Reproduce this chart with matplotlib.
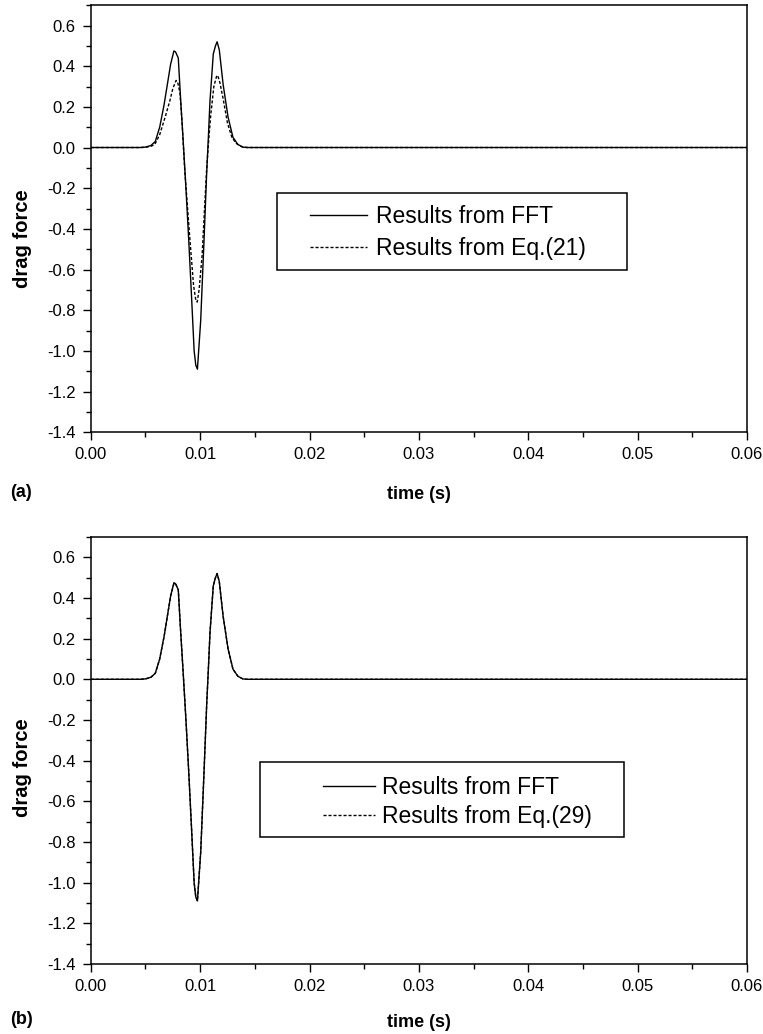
import numpy as np
import matplotlib
matplotlib.use('Agg')
import matplotlib.pyplot as plt
from matplotlib.ticker import MultipleLocator, FormatStrFormatter
from matplotlib.patches import Rectangle

plt.rcParams['font.family'] = ['Liberation Sans', 'DejaVu Sans']
plt.rcParams['axes.unicode_minus'] = False

# time in ms (converted to s below)
t_fft_ms = [0.0, 4.5, 5.0, 5.5, 5.9, 6.3, 6.7, 7.0, 7.3, 7.6, 7.75, 8.0, 8.2, 8.45,
            8.7, 8.95, 9.2, 9.45, 9.6, 9.75, 9.9, 10.05, 10.35, 10.6, 10.75, 10.9,
            11.2, 11.4, 11.55, 11.75, 12.1, 12.55, 13.0, 13.45, 13.9, 14.3, 60.0]
f_fft = [0.0, 0.0, 0.002, 0.01, 0.03, 0.10, 0.21, 0.31, 0.41, 0.475, 0.47, 0.44, 0.25, 0.03,
         -0.20, -0.45, -0.72, -1.0, -1.07, -1.09, -0.97, -0.85, -0.46, -0.12, 0.05, 0.23,
         0.46, 0.50, 0.52, 0.48, 0.31, 0.15, 0.05, 0.015, 0.002, 0.0, 0.0]

t_eq21_ms = [0.0, 4.5, 5.0, 5.5, 5.85, 6.3, 6.8, 7.23, 7.5, 7.8, 7.95, 8.15, 8.35, 8.6,
             9.06, 9.4, 9.6, 9.73, 9.9, 10.18, 10.4, 10.58, 10.73, 10.95, 11.25, 11.5,
             11.6, 11.8, 12.1, 12.5, 12.9, 13.3, 13.8, 14.3, 60.0]
f_eq21 = [0.0, 0.0, 0.001, 0.006, 0.015, 0.063, 0.15, 0.23, 0.29, 0.33, 0.32, 0.27, 0.12, -0.12,
          -0.45, -0.68, -0.75, -0.76, -0.70, -0.53, -0.30, -0.12, 0.0, 0.15, 0.30, 0.35,
          0.355, 0.32, 0.24, 0.12, 0.05, 0.02, 0.004, 0.0, 0.0]

t_eq29_ms = t_fft_ms
f_eq29 = [0.0, 0.0, 0.002, 0.01, 0.03, 0.10, 0.21, 0.31, 0.41, 0.47, 0.47, 0.44, 0.25, 0.03,
          -0.20, -0.45, -0.72, -1.0, -1.07, -1.09, -0.97, -0.85, -0.46, -0.12, 0.05, 0.23,
          0.46, 0.50, 0.52, 0.48, 0.31, 0.15, 0.05, 0.015, 0.002, 0.0, 0.0]

panels = [
    dict(tag='(a)', label2='Results from Eq.(21)', t2=t_eq21_ms, f2=f_eq21,
         rect=[0.119, 0.582, 0.860, 0.413], box=(0.284, 0.379, 0.533, 0.181),
         leg=(0.334, 0.533), hl=2.5, htp=0.4, ls=0.4, ylab_y=0.454,
         xlab_y=-0.126, tag_y=1 - 493 / 1034),
    dict(tag='(b)', label2='Results from Eq.(29)', t2=t_eq29_ms, f2=f_eq29,
         rect=[0.119, 0.0677, 0.860, 0.413], box=(0.258, 0.297, 0.5545, 0.176),
         leg=(0.354, 0.440), hl=2.27, htp=0.3, ls=0.25, ylab_y=0.459,
         xlab_y=-0.117, tag_y=1 - 1019 / 1034),
]

fig = plt.figure(figsize=(7.63, 10.34), dpi=100)

for p in panels:
    ax = fig.add_axes(p['rect'])
    ax.plot(np.array(t_fft_ms) / 1000, f_fft, color='black', lw=1.0,
            label='Results from FFT')
    ax.plot(np.array(p['t2']) / 1000, p['f2'], color='black', lw=1.0,
            dashes=(2.2, 1.4), label=p['label2'])
    ax.set_xlim(0, 0.06)
    ax.set_ylim(-1.4, 0.7)
    ax.xaxis.set_major_locator(MultipleLocator(0.01))
    ax.xaxis.set_minor_locator(MultipleLocator(0.005))
    ax.yaxis.set_major_locator(MultipleLocator(0.2))
    ax.yaxis.set_minor_locator(MultipleLocator(0.1))
    ax.xaxis.set_major_formatter(FormatStrFormatter('%.2f'))
    ax.yaxis.set_major_formatter(FormatStrFormatter('%.1f'))
    ax.tick_params(which='both', direction='out', top=False, right=False,
                   width=1.0, labelsize=12, pad=5)
    ax.tick_params(which='major', length=6)
    ax.tick_params(which='minor', length=3.5)
    for s in ax.spines.values():
        s.set_linewidth(1.1)

    ax.set_xlabel('time (s)', fontsize=13, fontweight='bold', va='top')
    ax.xaxis.set_label_coords(0.5, p['xlab_y'])
    ax.set_ylabel('drag force', fontsize=14.5, fontweight='bold', va='bottom')
    ax.yaxis.set_label_coords(-0.09, p['ylab_y'])

    bx, by, bw, bh = p['box']
    ax.add_patch(Rectangle((bx, by), bw, bh, transform=ax.transAxes,
                           facecolor='white', edgecolor='black', lw=1.1, zorder=4))
    ax.legend(loc='upper left', bbox_to_anchor=p['leg'], frameon=False,
              fontsize=16.5, borderpad=0, borderaxespad=0, labelspacing=p['ls'],
              handlelength=p['hl'], handletextpad=p['htp']).set_zorder(5)

    fig.text(0.013, p['tag_y'], p['tag'], fontsize=13, fontweight='bold',
             va='center', ha='left')

fig.savefig('out.png', dpi=100, facecolor='white')
